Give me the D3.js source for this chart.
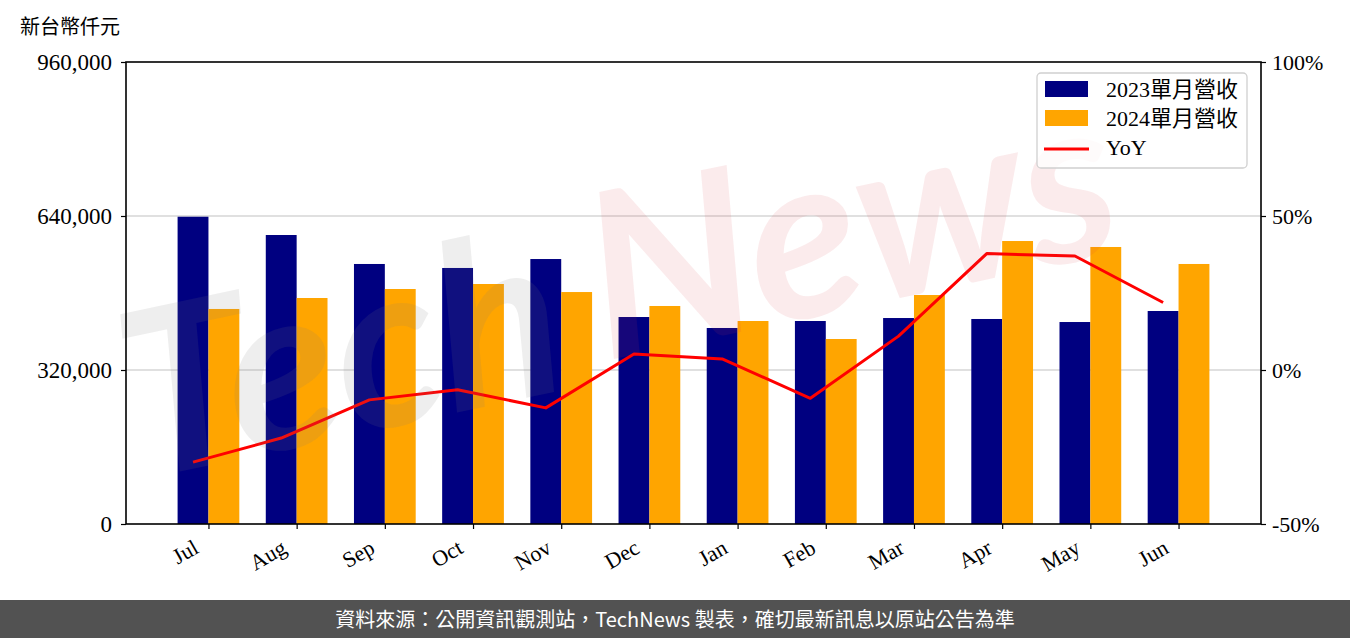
<!DOCTYPE html>
<html><head><meta charset="utf-8">
<script src="https://cdn.jsdelivr.net/npm/d3@7"></script>
<style>
html,body{margin:0;padding:0;background:#fff;}
svg{display:block;}
</style></head>
<body>
<svg id="chart" width="1350" height="638"></svg>
<script>
const months = ["Jul","Aug","Sep","Oct","Nov","Dec","Jan","Feb","Mar","Apr","May","Jun"];
const rev2023 = [638500, 600500, 540300, 532000, 550600, 430100, 407300, 421800, 428000, 426000, 419700, 442600];
const rev2024 = [446800, 469600, 488300, 498700, 482000, 453000, 421800, 384400, 475800, 588000, 575600, 540300];
const yoy = [-29.9, -22.1, -9.7, -6.4, -12.3, 5.2, 3.6, -9.2, 11.0, 37.8, 37.0, 21.9];
const leftTicks = [0, 320000, 640000, 960000];
const rightTicks = [-50, 0, 50, 100];
const seriesNames = ["2023單月營收", "2024單月營收", "YoY"];
const unitLabel = "新台幣仟元";
const footerText = "資料來源：公開資訊觀測站，TechNews 製表，確切最新訊息以原站公告為準";

const svg = d3.select("#chart");
const L = 126, R = 1261, T = 62, B = 524;
const serif = "'Liberation Serif','DejaVu Serif','Noto Sans CJK TC',serif";
const barW = 0.35;

const x = d3.scaleLinear().domain([-0.935, 11.935]).range([L, R]);
const y = d3.scaleLinear().domain([0, 960000]).range([B, T]);
const y2 = d3.scaleLinear().domain([-50, 100]).range([B, T]);

// gridlines
svg.append("g").selectAll("line").data(leftTicks.filter(v => v > 0 && v < 960000)).join("line")
  .attr("x1", L).attr("x2", R).attr("y1", d => y(d)).attr("y2", d => y(d))
  .attr("stroke", "#d6d6d6").attr("stroke-width", 1.6);

// bars
svg.append("g").selectAll("rect").data(rev2023).join("rect")
  .attr("x", (d, i) => x(i - barW)).attr("width", (d, i) => x(i) - x(i - barW))
  .attr("y", d => y(d)).attr("height", d => B - y(d)).attr("fill", "#000080");
svg.append("g").selectAll("rect").data(rev2024).join("rect")
  .attr("x", (d, i) => x(i)).attr("width", (d, i) => x(i + barW) - x(i))
  .attr("y", d => y(d)).attr("height", d => B - y(d)).attr("fill", "#ffa500");

// YoY line
const line = d3.line().x((d, i) => x(i - barW / 2)).y(d => y2(d));
svg.append("path").datum(yoy).attr("d", line).attr("fill", "none")
  .attr("stroke", "#ff0000").attr("stroke-width", 3).attr("stroke-linejoin", "round");

// watermark
const wm = svg.append("g").attr("transform", "translate(140,480) rotate(-12)");
wm.append("text").text("Tech").attr("x", 0).attr("y", 0)
  .attr("font-family", "Lato, 'Open Sans', sans-serif").attr("font-style", "italic").attr("font-weight", 700)
  .attr("font-size", 230).attr("fill", "rgba(120,120,120,0.13)");
wm.append("text").text("News").attr("x", 480).attr("y", -20)
  .attr("font-family", "Lato, 'Open Sans', sans-serif").attr("font-style", "italic").attr("font-weight", 700)
  .attr("font-size", 230).attr("fill", "rgba(215,60,70,0.10)");

// axes
const ax = svg.append("g").attr("transform", `translate(0,${B})`)
  .call(d3.axisBottom(x).tickValues(d3.range(months.length)).tickFormat(i => months[i]).tickSizeOuter(0).tickSize(5));
ax.select(".domain").remove();
ax.selectAll("text").attr("font-family", serif).attr("font-size", 22).attr("fill", "#000")
  .attr("text-anchor", "end").attr("dy", null).attr("y", 0)
  .attr("transform", "translate(-9,28) rotate(-30)");
ax.selectAll("line").attr("stroke", "#000").attr("stroke-width", 1.2);

const ayL = svg.append("g").attr("transform", `translate(${L},0)`)
  .call(d3.axisLeft(y).tickValues(leftTicks).tickFormat(d3.format(",")).tickSize(5).tickSizeOuter(0));
ayL.select(".domain").remove();
ayL.selectAll("text").attr("font-family", serif).attr("font-size", 23).attr("fill", "#000").attr("x", -14);
ayL.selectAll("line").attr("stroke", "#000").attr("stroke-width", 1.2);

const ayR = svg.append("g").attr("transform", `translate(${R},0)`)
  .call(d3.axisRight(y2).tickValues(rightTicks).tickFormat(d => d + "%").tickSize(5).tickSizeOuter(0));
ayR.select(".domain").remove();
ayR.selectAll("text").attr("font-family", serif).attr("font-size", 22).attr("fill", "#000").attr("x", 11);
ayR.selectAll("line").attr("stroke", "#000").attr("stroke-width", 1.2);

// frame
svg.append("rect").attr("x", L).attr("y", T).attr("width", R - L).attr("height", B - T)
  .attr("fill", "none").attr("stroke", "#000").attr("stroke-width", 1.6);

// unit label
svg.append("text").text(unitLabel).attr("x", 20).attr("y", 34)
  .attr("font-family", "'Noto Sans CJK TC',sans-serif").attr("font-size", 20).attr("fill", "#000");

// legend
const lg = svg.append("g");
lg.append("rect").attr("x", 1037).attr("y", 73).attr("width", 210).attr("height", 95).attr("rx", 4)
  .attr("fill", "rgba(255,255,255,0.8)").attr("stroke", "#d0d0d0").attr("stroke-width", 1.3);
const colors = ["#000080", "#ffa500"];
[0, 1].forEach(i => {
  lg.append("rect").attr("x", 1045).attr("y", 81 + i * 29).attr("width", 43).attr("height", 16).attr("fill", colors[i]);
});
lg.append("line").attr("x1", 1044).attr("x2", 1089).attr("y1", 149).attr("y2", 149)
  .attr("stroke", "#ff0000").attr("stroke-width", 3);
seriesNames.forEach((n, i) => {
  lg.append("text").text(n).attr("x", 1106).attr("y", 97 + i * 29)
    .attr("font-family", "'Liberation Serif','Noto Sans CJK TC',serif").attr("font-size", 22).attr("fill", "#000");
});

// footer
svg.append("rect").attr("x", 0).attr("y", 600).attr("width", 1350).attr("height", 38).attr("fill", "#525252");
svg.append("text").text(footerText).attr("x", 675).attr("y", 627).attr("text-anchor", "middle")
  .attr("font-family", "'Noto Sans CJK TC',sans-serif").attr("font-size", 20).attr("fill", "#fff");
</script>
</body></html>
